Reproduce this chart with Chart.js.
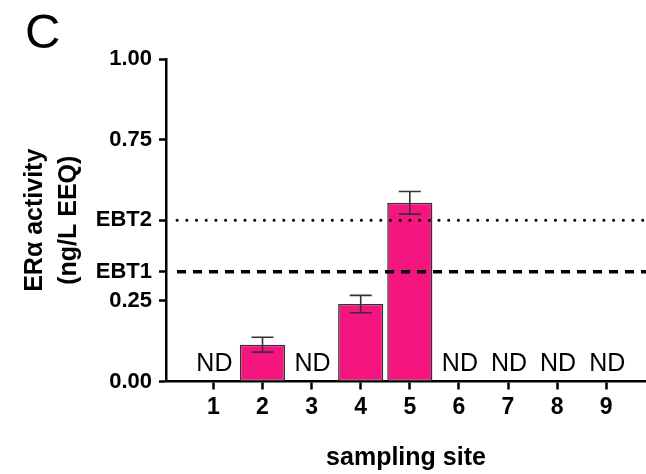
<!DOCTYPE html>
<html>
<head>
<meta charset="utf-8">
<script src="https://cdn.jsdelivr.net/npm/chart.js@4/dist/chart.umd.min.js"></script>
<style>
  html, body { margin: 0; padding: 0; background: #fff; }
  #wrap { width: 646px; height: 474px; position: relative; }
</style>
</head>
<body>
<div id="wrap"><canvas id="c" width="646" height="474"></canvas></div>
<script>
// ---- data ----
const panelLabel = 'C';
const sites = [1, 2, 3, 4, 5, 6, 7, 8, 9];
const siteLabels = ['1', '2', '3', '4', '5', '6', '7', '8', '9'];
const activity = [null, 0.114, null, 0.240, 0.554, null, null, null, null];
const activityErr = [null, 0.023, null, 0.027, 0.035, null, null, null, null];
const ndText = 'ND';
const ebt1 = 0.34;
const ebt2 = 0.50;
const yTickValues = [0, 0.25, 0.34, 0.50, 0.75, 1.00];
const yTickLabels = ['0.00', '0.25', 'EBT1', 'EBT2', '0.75', '1.00'];
const yTitle = ['ER\u03B1 activity', '(ng/L EEQ)'];
const xTitle = 'sampling site';
const refLineStart = 0.26;
const refLineEnd = 9.81;

const FONT = "'Liberation Sans', Arial, Helvetica, sans-serif";

const barData = sites.map((s, i) => ({ x: s, y: activity[i] }));

const extrasPlugin = {
  id: 'extras',
  afterDatasetsDraw(chart) {
    const { ctx, scales: { x, y } } = chart;
    ctx.save();
    // error bars
    ctx.strokeStyle = '#333';
    ctx.lineWidth = 1.6;
    sites.forEach((s, i) => {
      if (activity[i] == null || activityErr[i] == null) return;
      const px = x.getPixelForValue(s);
      const yt = y.getPixelForValue(activity[i] + activityErr[i]);
      const yb = y.getPixelForValue(activity[i] - activityErr[i]);
      const hw = 11;
      ctx.beginPath();
      ctx.moveTo(px, yt); ctx.lineTo(px, yb);
      ctx.moveTo(px - hw, yt); ctx.lineTo(px + hw, yt);
      ctx.moveTo(px - hw, yb); ctx.lineTo(px + hw, yb);
      ctx.stroke();
    });
    // ND labels
    ctx.fillStyle = '#000';
    ctx.font = '25px ' + FONT;
    ctx.textAlign = 'center';
    ctx.textBaseline = 'alphabetic';
    sites.forEach((s, i) => {
      if (activity[i] != null) return;
      ctx.fillText(ndText, x.getPixelForValue(s) + 1, y.getPixelForValue(0.033));
    });
    ctx.restore();
  },
  afterDraw(chart) {
    const { ctx } = chart;
    ctx.save();
    ctx.fillStyle = '#000';
    ctx.font = '49px ' + FONT;
    ctx.textAlign = 'left';
    ctx.textBaseline = 'alphabetic';
    ctx.fillText(panelLabel, 25, 48);
    ctx.restore();
  }
};

new Chart(document.getElementById('c'), {
  data: {
    datasets: [
      {
        type: 'line',
        label: 'EBT2',
        data: [{ x: refLineStart, y: ebt2 }, { x: refLineEnd, y: ebt2 }],
        borderColor: '#000',
        borderWidth: 3,
        borderDash: [0.1, 9.6],
        borderCapStyle: 'round',
        pointRadius: 0,
        fill: false,
        clip: false,
        order: 0
      },
      {
        type: 'line',
        label: 'EBT1',
        data: [{ x: refLineStart, y: ebt1 }, { x: refLineEnd, y: ebt1 }],
        borderColor: '#000',
        borderWidth: 3.5,
        borderDash: [9, 7],
        pointRadius: 0,
        fill: false,
        clip: false,
        order: 0
      },
      {
        type: 'bar',
        label: 'ER\u03B1 activity',
        data: barData,
        backgroundColor: '#F5157E',
        borderColor: '#333333',
        borderWidth: 1.5,
        borderSkipped: false,
        categoryPercentage: 0.92,
        barPercentage: 1.0,
        order: 1
      }
    ]
  },
  options: {
    responsive: false,
    animation: false,
    devicePixelRatio: 1,
    layout: { padding: { top: 59, right: 0, bottom: 0, left: 0 } },
    plugins: { legend: { display: false }, tooltip: { enabled: false } },
    scales: {
      x: {
        type: 'linear',
        offset: false,
        min: 0.035,
        max: 9.81,
        afterBuildTicks(scale) { scale.ticks = sites.map(v => ({ value: v })); },
        afterFit(scale) { scale.height = 92.5; },
        ticks: {
          autoSkip: false,
          maxRotation: 0,
          padding: 4,
          color: '#000',
          font: { family: FONT, size: 23, weight: 'bold' },
          callback(v) { const i = sites.indexOf(v); return i >= 0 ? siteLabels[i] : ''; }
        },
        grid: { offset: false, drawOnChartArea: false, drawTicks: true, tickLength: 8, tickWidth: 2.5, tickColor: '#000' },
        border: { display: true, color: '#000', width: 2.5 },
        title: {
          display: true,
          text: xTitle,
          color: '#000',
          font: { family: FONT, size: 25, weight: 'bold' },
          padding: { top: 0, bottom: 1 }
        }
      },
      y: {
        type: 'linear',
        min: 0,
        max: 1,
        afterBuildTicks(scale) { scale.ticks = yTickValues.map(v => ({ value: v })); },
        afterFit(scale) { scale.width = 166; },
        ticks: {
          autoSkip: false,
          padding: 7,
          color: '#000',
          font: { family: FONT, size: 22, weight: 'bold' },
          callback(v) { const i = yTickValues.indexOf(v); return i >= 0 ? yTickLabels[i] : ''; }
        },
        grid: { drawOnChartArea: false, drawTicks: true, tickLength: 7, tickWidth: 2.5, tickColor: '#000' },
        border: { display: true, color: '#000', width: 2.5 },
        title: {
          display: true,
          text: yTitle,
          color: '#000',
          font: { family: FONT, size: 25, weight: 'bold', lineHeight: 1.36 },
          padding: { top: 18, bottom: 0 }
        }
      }
    }
  },
  plugins: [extrasPlugin]
});
</script>
</body>
</html>
